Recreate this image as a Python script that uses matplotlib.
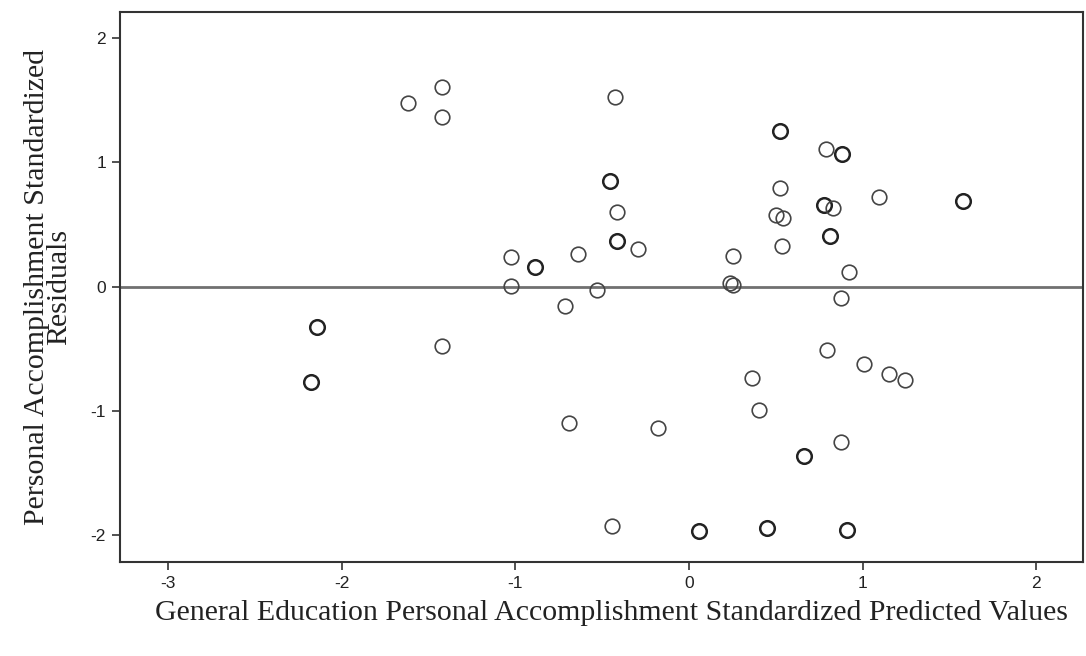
import numpy as np
import matplotlib
matplotlib.use('Agg')
import matplotlib.pyplot as plt

# standardized predicted values (x) and standardized residuals (y)
pred = [-1.617, -1.425, -1.425, -0.425, -0.457, -0.413, -0.413, -0.292, -1.025, -0.887,
        -0.638, -1.025, -0.532, -0.714, 0.524, 0.789, 0.881, 0.524, 1.094, 1.577,
        0.778, 0.828, 0.499, 0.540, 0.814, 0.534, 0.255, 0.236, 0.255, 0.923,
        0.877, -2.145, -1.425, -2.177, -0.691, -0.177, 0.793, 1.006, 1.154, 1.244,
        0.361, 0.405, 0.877, 0.662, -0.445, 0.059, 0.448, 0.908]
resid = [1.474, 1.603, 1.366, 1.527, 0.851, 0.597, 0.366, 0.302, 0.235, 0.159,
         0.259, 0.002, -0.028, -0.157, 1.253, 1.109, 1.064, 0.790, 0.718, 0.688,
         0.656, 0.629, 0.573, 0.553, 0.406, 0.326, 0.245, 0.026, 0.012, 0.119,
         -0.093, -0.323, -0.476, -0.766, -1.101, -1.141, -0.511, -0.621, -0.706, -0.752,
         -0.739, -0.994, -1.249, -1.364, -1.927, -1.967, -1.945, -1.959]
# number of cases sitting on each point (overplotted rings look darker)
n_cases = [1, 1, 1, 1, 2, 1, 2, 1, 1, 2,
           1, 1, 1, 1, 2, 1, 2, 1, 1, 2,
           2, 1, 1, 1, 2, 1, 1, 1, 1, 1,
           1, 2, 1, 2, 1, 1, 1, 1, 1, 1,
           1, 1, 1, 2, 1, 2, 2, 2]

xticks = [-3, -2, -1, 0, 1, 2]
yticks = [-2, -1, 0, 1, 2]

fig = plt.figure(figsize=(10.86, 6.56), dpi=100)
ax = fig.add_axes([0.1105, 0.1438, 0.8867, 0.8374])

ax.axhline(0, color='#707070', lw=2.0, zorder=1)

for x, y, n in zip(pred, resid, n_cases):
    if n > 1:
        ax.plot(x, y, 'o', ms=10.5, mfc='none', mec='#222222', mew=1.8, zorder=3)
    else:
        ax.plot(x, y, 'o', ms=10.5, mfc='none', mec='#444444', mew=1.2, zorder=3)

ax.set_xlim(-3.278, 2.27)
ax.set_ylim(-2.214, 2.206)
ax.set_xticks(xticks)
ax.set_yticks(yticks)
ax.set_xticklabels([str(t) for t in xticks], family='Liberation Sans', fontsize=12.5, color='#222222')
ax.set_yticklabels([str(t) for t in yticks], family='Liberation Sans', fontsize=12.5, color='#222222')
ax.tick_params(direction='out', length=6, width=1.2, color='#333333', pad=4)

for s in ax.spines.values():
    s.set_color('#333333')
    s.set_linewidth(1.5)

ax.set_xlabel('General Education Personal Accomplishment Standardized Predicted Values',
              family='Liberation Serif', fontsize=21.5, color='#222222', labelpad=7)
ax.xaxis.label.set_x(0.51)
ax.set_ylabel('Personal Accomplishment Standardized\nResiduals',
              family='Liberation Serif', fontsize=21.5, color='#222222', labelpad=13,
              linespacing=0.85)

fig.savefig('out.png', dpi=100, facecolor='white')
